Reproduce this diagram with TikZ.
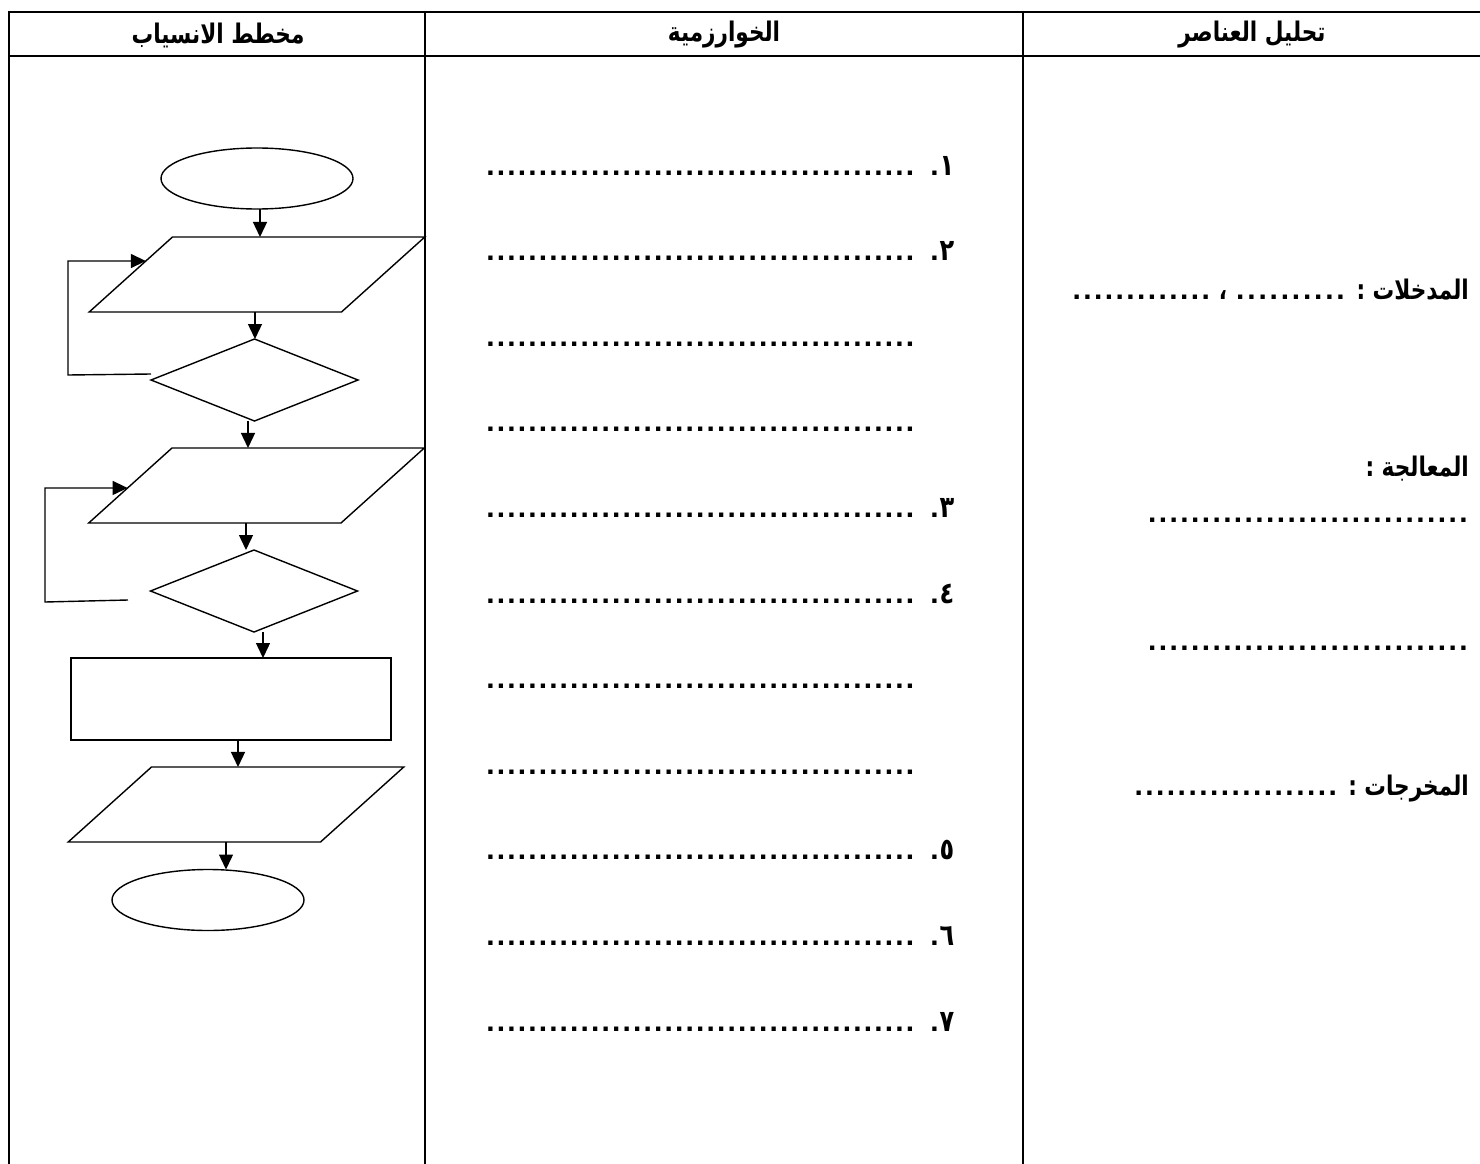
\documentclass[tikz,border=0pt]{standalone}
\usepackage{fontspec}
\usetikzlibrary{shapes.geometric, arrows.meta, calc, positioning}
\newfontfamily\arabicfont[Script=Arabic, FakeStretch=0.8]{DejaVu Sans}
\newfontfamily\dotfont{Liberation Sans}
\TeXXeTstate=1
\newcommand{\artext}[1]{{\arabicfont\bfseries\beginR #1\endR}}
\newcommand{\dotrow}[1]{{\dotfont\bfseries\fontsize{30}{32}\selectfont
  \hbox to #1{\xleaders\hbox to 10.4pt{\hss.\hss}\hfill}}}

\begin{document}
\begin{tikzpicture}[x=1pt, y=-1pt, >={Triangle[length=15pt,width=14pt]},
    every node/.style={font=\fontsize{27}{30}\selectfont, inner sep=0pt},
    frame/.style={line width=2pt},
    box/.style={draw, line width=1.4pt, outer sep=0pt},
    term/.style={box, ellipse, minimum width=192pt, minimum height=61pt},
    io/.style={box, trapezium, trapezium left angle=42, trapezium right angle=138},
    cond/.style={box, diamond, minimum width=207pt, minimum height=82pt},
    proc/.style={box, rectangle, minimum width=320pt, minimum height=82pt},
    flow/.style={->, line width=1.4pt}]

    \useasboundingbox (0,0) rectangle (1480,1164);

    % table frame
    \draw[frame] (9,1164) -- (9,12) -- (1480,12);
    \draw[frame] (9,56) -- (1480,56);
    \draw[frame] (425,12) -- (425,1164);
    \draw[frame] (1023,12) -- (1023,1164);

    \node (h1) at (218,35) {\artext{مخطط الانسياب}};
    \node (h2) at (724,35) {\artext{الخوارزمية}};
    \node (h3) at (1252,35) {\artext{تحليل العناصر}};

    % flowchart
    \node[term] (start) at (257,178.5) {};
    \node[io] (in1) at (257,274.5) {\rule{0pt}{75pt}\rule{169pt}{0pt}};
    \node[cond] (d1) at (254.5,380) {};
    \node[io] (in2) at (256.5,485.5) {\rule{0pt}{75pt}\rule{169pt}{0pt}};
    \node[cond] (d2) at (254,591) {};
    \node[proc] (calc) at (231,699) {};
    \node[io] (out) at (236,804.5) {\rule{0pt}{75pt}\rule{169pt}{0pt}};
    \node[term] (stop) at (208,900) {};

    \draw[flow] (start.south -| 260,0) -- (in1.north -| 260,0);
    \draw[flow] (in1.south -| 255,0) -- (d1.north -| 255,0);
    \draw[flow] (d1.south -| 248,0) -- (in2.north -| 248,0);
    \draw[flow] (in2.south -| 246,0) -- (d2.north -| 246,0);
    \draw[flow] (d2.south -| 263,0) -- (calc.north -| 263,0);
    \draw[flow] (calc.south -| 238,0) -- (out.north -| 238,0);
    \draw[flow] (out.south -| 226,0) -- (stop.north -| 226,0);

    % loops back to the inputs
    \draw[flow] ([yshift=6pt]d1.west) -- (68,375)
      |- ($(in1.bottom left corner)!0.68!(in1.top left corner)$);
    \coordinate (back2) at (128,600);
    \draw[flow] (back2) -- (45,602)
      |- ($(in2.bottom left corner)!0.467!(in2.top left corner)$);

    % algorithm steps
    \foreach \i/\n in {1/١, 2/٢, 5/٣, 6/٤, 9/٥, 10/٦, 11/٧}
      \node[anchor=base west] (alg\i) at (485,{175+85.6*(\i-1)})
        {\dotrow{430pt}\hspace{14pt}\dotrow{10.4pt}{\arabicfont\bfseries\fontsize{30}{30}\selectfont\n}};
    \foreach \i in {3,4,7,8}
      \node[anchor=base west] (alg\i) at (485,{175+85.6*(\i-1)}) {\dotrow{430pt}};

    % analysis
    \node[anchor=base east] (inputs) at (1469,299)
      {\artext{المدخلات : \dotrow{112pt} ، \dotrow{140pt}}};
    \node[anchor=base east] (process) at (1469,476) {\artext{المعالجة :}};
    \node[anchor=base east] (processA) at (1469,522) {\artext{\dotrow{322pt}}};
    \node[anchor=base east] (processB) at (1469,650) {\artext{\dotrow{322pt}}};
    \node[anchor=base east] (outputs) at (1469,795)
      {\artext{المخرجات : \dotrow{205pt}}};

\end{tikzpicture}
\end{document}
